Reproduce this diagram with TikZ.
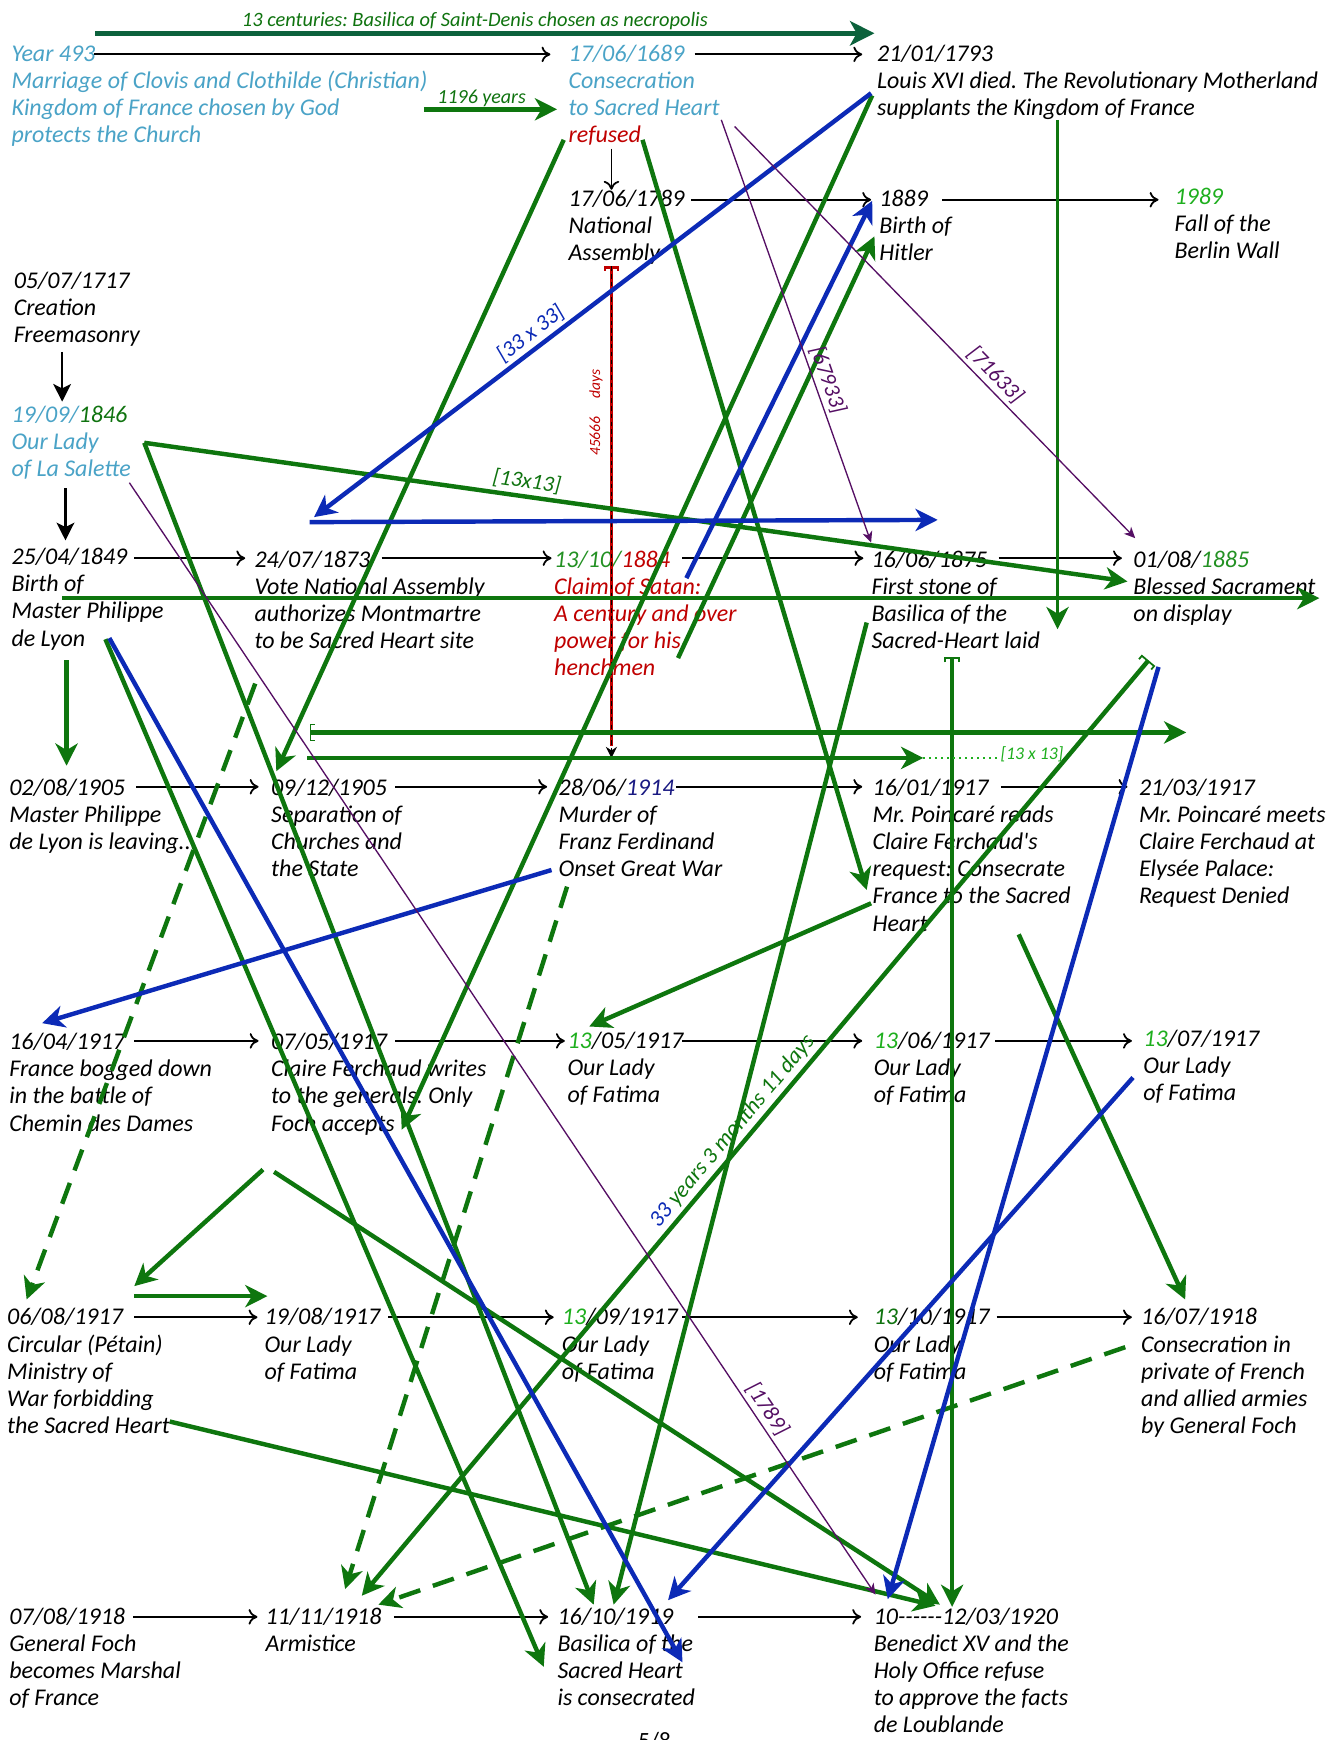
\documentclass[tikz,border=0pt]{standalone}
\usepackage{fontspec}
\setmainfont{Carlito}
\usetikzlibrary{arrows.meta}
\definecolor{cteal}{RGB}{74,163,199}
\definecolor{cred}{RGB}{192,0,0}
\definecolor{cgbr}{RGB}{30,175,30}
\definecolor{cgmd}{RGB}{35,145,35}
\definecolor{cgdk}{RGB}{15,115,15}
\definecolor{cnavy}{RGB}{25,25,130}
\definecolor{lgreen}{RGB}{14,118,14}
\definecolor{ltop}{RGB}{12,98,60}
\definecolor{lblue}{RGB}{12,42,182}
\definecolor{lpurp}{RGB}{85,15,100}
\newcommand{\mytb}[1]{\begin{tabular}[t]{@{}l@{}}#1\end{tabular}}
\frenchspacing
\begin{document}
\begin{tikzpicture}[x=0.5pt,y=-0.5pt,
  txt/.style={anchor=base west,inner sep=0pt,font=\fontsize{10.8}{12.2}\selectfont\itshape\frenchspacing},
  tl/.style={black,line width=0.8pt,-{To[length=4pt,width=7pt]}},
  tlv/.style={black,line width=1pt,-{Stealth[length=8pt,width=8pt,inset=2pt]}},
  gl/.style={lgreen,line width=2pt,-{Stealth[length=10pt,width=10pt,inset=3pt]}},
  gd/.style={gl,dash pattern=on 10pt off 6pt},
  bl/.style={lblue,line width=2pt,-{Stealth[length=10pt,width=10pt,inset=3pt]}},
  pl/.style={lpurp,line width=0.6pt,-{Stealth[length=5pt,width=4.5pt,inset=1.5pt]}},
  lab/.style={font=\fontsize{10}{11}\selectfont\itshape,inner sep=1.5pt,sloped,above},
]
\fill[white] (0,0) rectangle (1210,1568);
\useasboundingbox (0,0) rectangle (1210,1568);

% ---------- texts ----------
\node[font=\fontsize{9.2}{10}\selectfont\itshape,text=cgdk] (cent) at (428,19) {13 centuries: Basilica of Saint-Denis chosen as necropolis};
\node[font=\fontsize{9}{10}\selectfont\itshape,text=cgdk] (l1196) at (434,89) {1196 years};

\node[txt,text=cteal] (n493) at (10,55) {\mytb{Year 493\\Marriage of Clovis and Clothilde (Christian)\\Kingdom of France chosen by God\\protects the Church}};
\node[txt,text=cteal] (n1689) at (512,55) {\mytb{17/06/1689\\Consecration\\to Sacred Heart\\{\color{cred}refused}}};
\node[txt] (n1793) at (790,55) {\mytb{21/01/1793\\Louis XVI died. The Revolutionary Motherland\\supplants the Kingdom of France}};
\node[txt] (n1789) at (512,186) {\mytb{17/06/1789\\National\\Assembly}};
\node[txt] (n1889) at (792,186) {\mytb{1889\\Birth of\\Hitler}};
\node[txt] (n1989) at (1058,184) {\mytb{{\color{cgbr}1989}\\Fall of the\\Berlin Wall}};
\node[txt] (n1717) at (12,260) {\mytb{05/07/1717\\Creation\\Freemasonry}};
\node[txt,text=cteal] (n1846) at (10,381) {\mytb{19/09/{\color{cgdk}1846}\\Our Lady\\of La Salette}};
\node[txt] (n1849) at (10,509) {\mytb{25/04/1849\\Birth of\\Master Philippe\\de Lyon}};
\node[txt] (n1873) at (229,511) {\mytb{24/07/1873\\Vote National Assembly\\authorizes Montmartre\\to be Sacred Heart site}};
\node[txt,text=cred] (n1884) at (499,511) {\mytb{{\color{cgmd}13/10/}1884\\Claim of Satan:\\A century and over\\power for his\\henchmen}};
\node[txt] (n1875) at (785,511) {\mytb{16/06/1875\\First stone of\\Basilica of the\\Sacred-Heart laid}};
\node[txt] (n1885) at (1021,511) {\mytb{01/08/{\color{cgmd}1885}\\Blessed Sacrament\\on display}};
\node[txt] (n1905a) at (8,717) {\mytb{02/08/1905\\Master Philippe\\de Lyon is leaving...}};
\node[txt] (n1905b) at (244,717) {\mytb{09/12/1905\\Separation of\\Churches and\\the State}};
\node[txt] (n1914) at (503,717) {\mytb{28/06/{\color{cnavy}1914}\\Murder of\\Franz Ferdinand\\Onset Great War}};
\node[txt] (n1917a) at (786,717) {\mytb{16/01/1917\\Mr. Poincaré reads\\Claire Ferchaud\textquotesingle s\\request: Consecrate\\France to the Sacred\\Heart}};
\node[txt] (n1917b) at (1026,717) {\mytb{21/03/1917\\Mr. Poincaré meets\\Claire Ferchaud at\\Elysée Palace:\\Request Denied}};
\node[txt] (n1917c) at (8,946) {\mytb{16/04/1917\\France bogged down\\in the battle of\\Chemin des Dames}};
\node[txt] (n1917d) at (244,946) {\mytb{07/05/1917\\Claire Ferchaud writes\\to the generals. Only\\Foch accepts}};
\node[txt] (n1917e) at (511,945) {\mytb{{\color{cgbr}13}/05/1917\\Our Lady\\of Fatima}};
\node[txt] (n1917f) at (787,945) {\mytb{{\color{cgbr}13}/06/1917\\Our Lady\\of Fatima}};
\node[txt] (n1917g) at (1030,943) {\mytb{{\color{cgbr}13}/07/1917\\Our Lady\\of Fatima}};
\node[txt] (n1917h) at (6,1194) {\mytb{06/08/1917\\Circular (Pétain)\\Ministry of\\War forbidding\\the Sacred Heart}};
\node[txt] (n1917i) at (238,1194) {\mytb{19/08/1917\\Our Lady\\of Fatima}};
\node[txt] (n1917j) at (506,1194) {\mytb{{\color{cgbr}13}/09/1917\\Our Lady\\of Fatima}};
\node[txt] (n1917k) at (787,1194) {\mytb{{\color{cgdk}13}/10/1917\\Our Lady\\of Fatima}};
\node[txt] (n1918a) at (1028,1194) {\mytb{16/07/1918\\Consecration in\\private of French\\and allied armies\\by General Foch}};
\node[txt] (n1918b) at (8,1464) {\mytb{07/08/1918\\General Foch\\becomes Marshal\\of France}};
\node[txt] (n1918c) at (239,1464) {\mytb{11/11/1918\\Armistice}};
\node[txt] (n1919) at (502,1464) {\mytb{16/10/1919\\Basilica of the\\Sacred Heart\\is consecrated}};
\node[txt] (n1920) at (787,1464) {\mytb{10{-}{-}{-}{-}{-}{-}12/03/1920\\Benedict XV and the\\Holy Office refuse\\to approve the facts\\de Loublande}};
\node[font=\fontsize{10.5}{12}\selectfont,anchor=base] (pgno) at (590,1576) {5/8};

% ---------- black timeline arrows ----------
\foreach \n/\xa/\xb/\yy in {a1/85/496/49, a2/626/777/49, a3/623/785/180, a4/849/1044/180,
  a5/121/221/503, a6/344/497/503, a7/615/778/503, a8/900/1011/503,
  a9/123/233/709, a10/356/493/709, a11/609/777/709, a12/902/1016/709,
  a13/121/233/938, a14/356/509/938, a15/615/777/938, a16/897/1020/938,
  a17/121/232/1187, a18/350/499/1187, a19/615/773/1187, a20/898/1020/1187,
  a21/120/232/1457, a22/355/494/1457, a23/629/776/1457}
  {\coordinate (\n-s) at (\xa,\yy); \coordinate (\n-e) at (\xb,\yy); \draw[tl] (\n-s) -- (\n-e);}
\coordinate (v1-s) at (551,134); \coordinate (v1-e) at (551,171);
\draw[tl] (v1-s) -- (v1-e);
\coordinate (v2-s) at (56,317); \coordinate (v2-e) at (56,362);
\draw[tlv] (v2-s) -- (v2-e);
\coordinate (v3-s) at (59,440); \coordinate (v3-e) at (59,487);
\draw[tlv] (v3-s) -- (v3-e);

% ---------- top arrows ----------
\coordinate (top-s) at (86,30); \coordinate (top-e) at (788,30);
\draw[ltop,line width=2.4pt,-{Stealth[length=11pt,width=11pt,inset=3pt]}] (top-s) -- (top-e);
\coordinate (y-s) at (382,98.5); \coordinate (y-e) at (502,98.5);
\draw[gl,line width=2.2pt] (y-s) -- (y-e);

% ---------- red dashed ----------
\coordinate (r-s) at (551,240); \coordinate (r-e) at (551,683);
\draw[cred,line width=1.3pt,{Bracket[width=7pt,length=1.5pt,line width=1pt]}-] (r-s) -- (551,672);
\draw[black,line width=0.6pt,dash pattern=on 2pt off 1.5pt,-{Stealth[length=5pt,width=5pt]}] (r-s) -- (r-e);
\node[font=\fontsize{7}{8}\selectfont\itshape,text=cred,rotate=90] (l45666) at (537,372) {45666\hspace{8pt}days};

% ---------- green lines ----------
\foreach \n/\xa/\ya/\xb/\yb in {g1/508/126/249/695, g2/579/126/781/802, g3/786/86/362/1018,
  g4/611/593/788/213, g7/56/539/1189/539, g9/60/595/60/690, g11/277/683/832/683,
  g14/781/561/553/1446, g15/918/842/1068/1171, g16/785/814/531/925, g17/237/1054/121/1159,
  g18/247/1056/847/1446, g19/121/1168/241/1168, g20/153/1281/843/1447,
  g24/95/576/490/1502, g25/130/399/535/1446}
  {\coordinate (\n-s) at (\xa,\ya); \coordinate (\n-e) at (\xb,\yb); \draw[gl] (\n-s) -- (\n-e);}
\foreach \n/\xa/\ya/\xb/\yb in {g21/1014/1214/341/1446, g22/511/799/311/1432, g23/230/616/24/1171}
  {\coordinate (\n-s) at (\xa,\ya); \coordinate (\n-e) at (\xb,\yb); \draw[gd] (\n-s) -- (\n-e);}

\coordinate (g6-s) at (130,399); \coordinate (g6-e) at (1016,524);
\draw[gl] (g6-s) -- node[lab,pos=0.387,text=cgdk] (l13a) {[13x13]} (g6-e);
\coordinate (g8-s) at (953,108); \coordinate (g8-e) at (953,567);
\draw[gl,line width=1.5pt] (g8-s) -- (g8-e);
\coordinate (g10-s) at (279,660); \coordinate (g10-e) at (1069,660);
\draw[lgreen,line width=2pt,{Bracket[width=8pt,length=2pt,line width=0.6pt]}-{Stealth[length=10pt,width=10pt,inset=3pt]}] (g10-s) -- (g10-e);
\coordinate (g12-s) at (858,592); \coordinate (g12-e) at (858,1448);
\draw[lgreen,line width=1.5pt,{Bracket[width=7pt,length=2pt,line width=0.8pt]}-{Stealth[length=10pt,width=10pt,inset=3pt]}] (g12-s) -- (g12-e);
\coordinate (g13-s) at (1035,595); \coordinate (g13-e) at (326,1438);
\draw[lgreen,line width=2pt,{Bracket[width=8pt,length=2pt,line width=0.8pt]}-{Stealth[length=10pt,width=10pt,inset=3pt]}] (g13-s) -- node[lab,pos=0.514,text=lgreen,font=\fontsize{10.2}{11}\selectfont\itshape] (l33y) {{\color{lblue}33} years 3 months 11 days} (g13-e);
\coordinate (dot-e) at (900,683);
\draw[cgbr,line width=0.7pt,dotted] (g11-e) -- (dot-e);
\node[font=\fontsize{8}{9}\selectfont\itshape,text=cgbr] (l13b) at (930,680) {[13 x 13]};

% ---------- blue lines ----------
\coordinate (b1-s) at (785,84); \coordinate (b1-e) at (283,466);
\draw[bl] (b1-s) -- node[lab,pos=0.595,text=lblue] (l33) {[33 x 33]} (b1-e);
\foreach \n/\xa/\ya/\xb/\yb in {b2/279/470.5/845/468.5, b3/618.5/521/786/181, b4/497/784/38/922,
  b5/98.5/575/615/1498, b6/1044/601/800/1441, b7/1021/971/602/1442}
  {\coordinate (\n-s) at (\xa,\ya); \coordinate (\n-e) at (\xb,\yb); \draw[bl] (\n-s) -- (\n-e);}

% ---------- purple lines ----------
\coordinate (p1-s) at (650,108); \coordinate (p1-e) at (785,489);
\draw[pl] (p1-s) -- node[lab,pos=0.626,text=lpurp] (l679) {[67933]} (p1-e);
\coordinate (p2-s) at (662,114); \coordinate (p2-e) at (1023,485);
\draw[pl] (p2-s) -- node[lab,pos=0.627,text=lpurp] (l716) {[71633]} (p2-e);
\coordinate (p3-s) at (116.6,435); \coordinate (p3-e) at (789,1437);
\draw[pl] (p3-s) -- node[lab,pos=0.84,text=lpurp] (l1789) {[1789]} (p3-e);
\end{tikzpicture}
\end{document}
